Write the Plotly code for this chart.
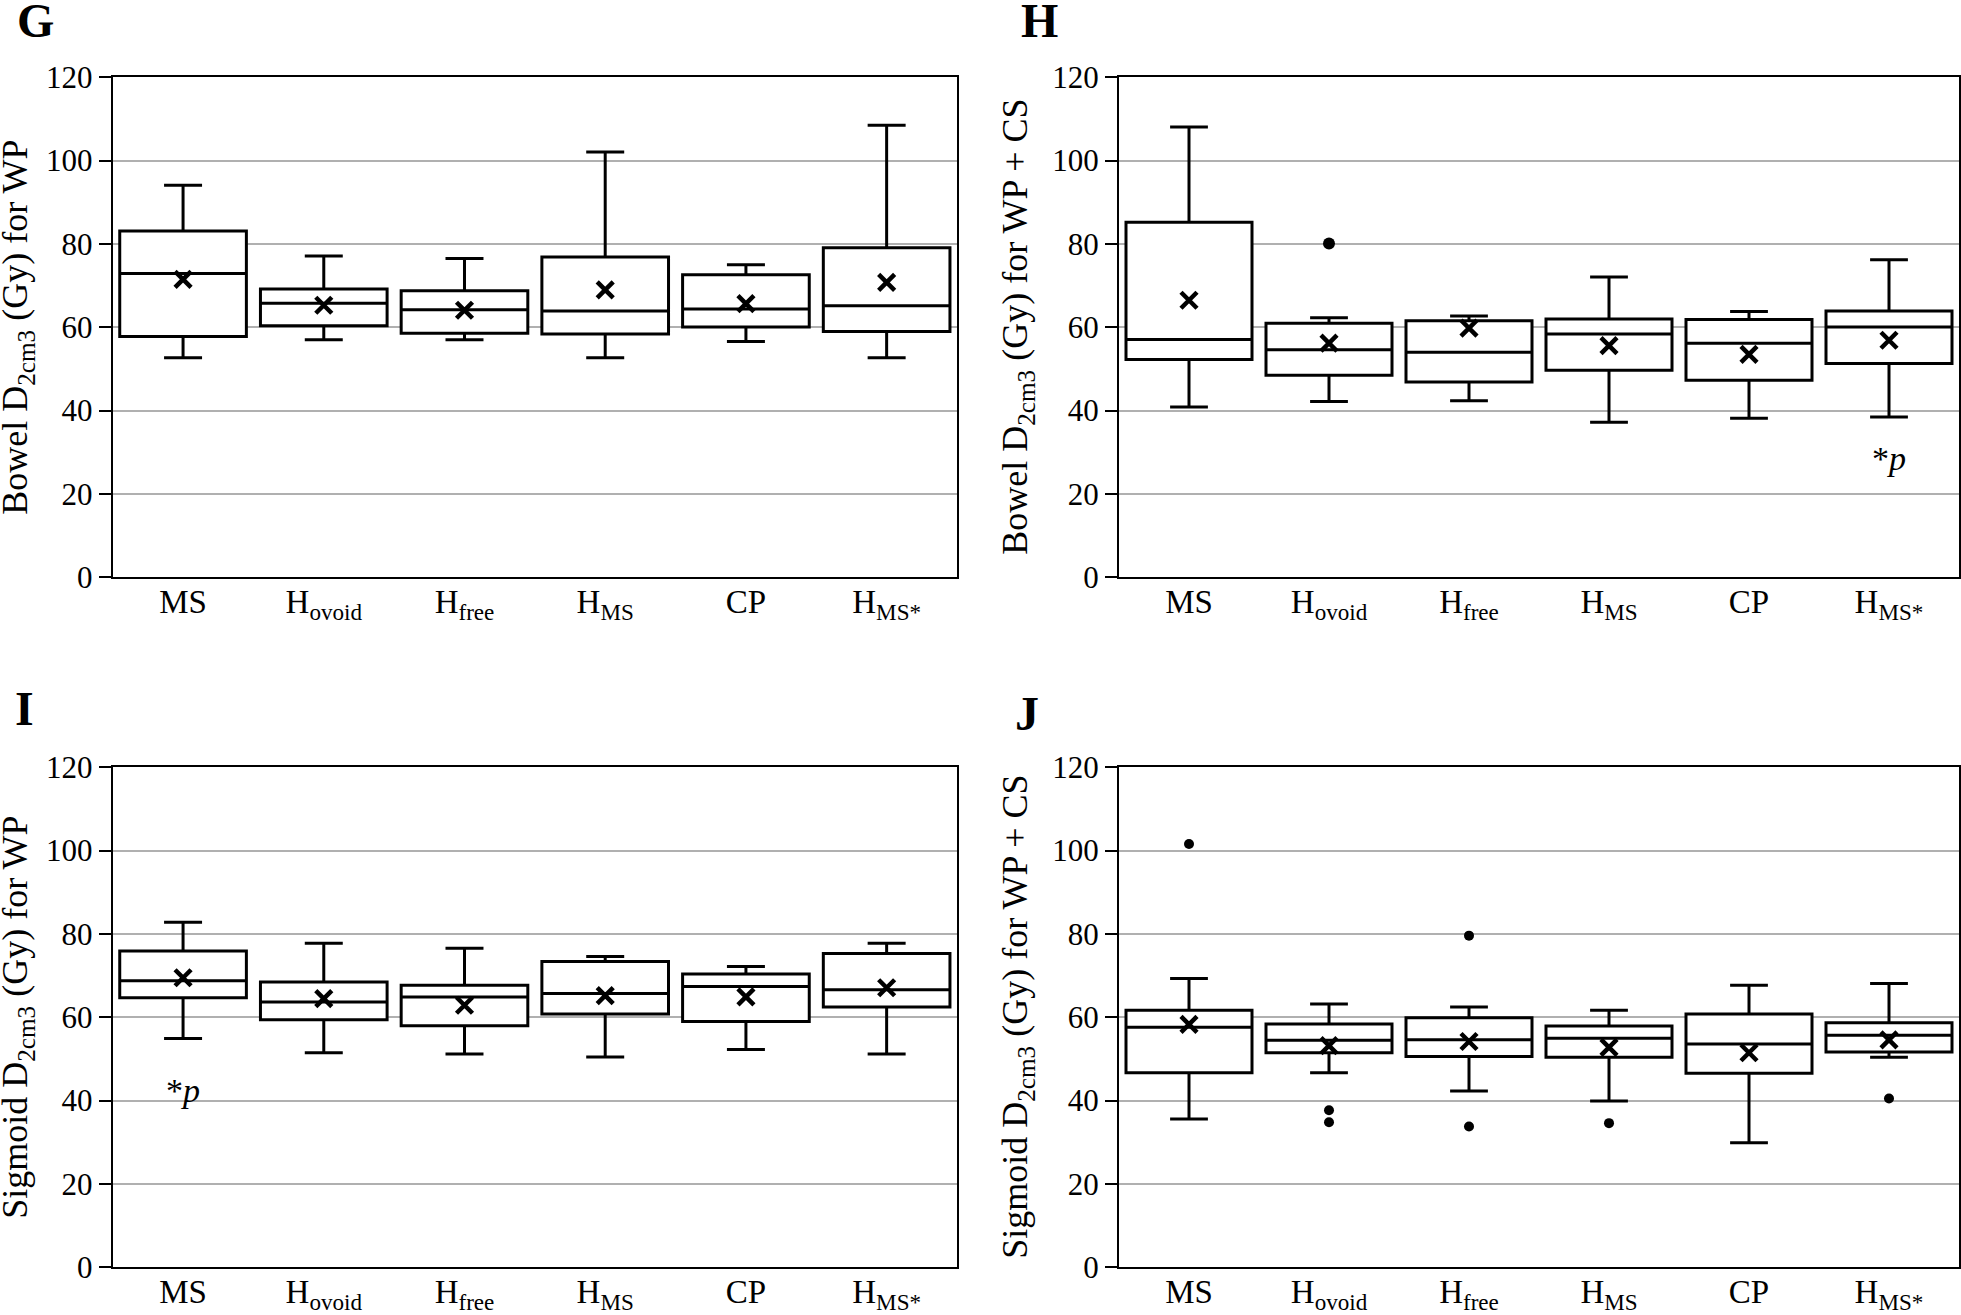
import plotly.graph_objects as go

W, H = 1961, 1315

categories = ["MS", "Hovoid", "Hfree", "HMS", "CP", "HMS*"]
tick_text = ["MS", "H<sub>ovoid</sub>", "H<sub>free</sub>", "H<sub>MS</sub>", "CP", "H<sub>MS*</sub>"]
y_ticks = [0, 20, 40, 60, 80, 100, 120]

# Panel G: Bowel D2cm3 for WP
g_low = [52.7, 57.0, 57.0, 52.7, 56.6, 52.7]
g_q1 = [57.8, 60.4, 58.6, 58.4, 60.1, 59.0]
g_med = [72.9, 65.8, 64.2, 63.9, 64.4, 65.2]
g_q3 = [83.1, 69.2, 68.8, 76.9, 72.6, 79.1]
g_high = [94.1, 77.1, 76.5, 102.1, 75.0, 108.5]
g_mean = [71.5, 65.3, 64.1, 69.0, 65.7, 70.8]
g_out_x = []
g_out_y = []

# Panel H: Bowel D2cm3 for WP + CS
h_low = [40.9, 42.2, 42.4, 37.2, 38.2, 38.5]
h_q1 = [52.3, 48.5, 46.9, 49.7, 47.3, 51.3]
h_med = [57.1, 54.6, 54.0, 58.4, 56.2, 60.1]
h_q3 = [85.2, 61.0, 61.6, 62.0, 61.9, 63.9]
h_high = [108.1, 62.3, 62.7, 72.1, 63.8, 76.2]
h_mean = [66.5, 56.2, 59.8, 55.6, 53.5, 56.9]
h_out_x = ["Hovoid"]
h_out_y = [80.1]

# Panel I: Sigmoid D2cm3 for WP
i_low = [54.9, 51.5, 51.2, 50.5, 52.3, 51.2]
i_q1 = [64.7, 59.4, 58.0, 60.8, 59.0, 62.5]
i_med = [68.8, 63.7, 64.9, 65.7, 67.4, 66.6]
i_q3 = [75.9, 68.5, 67.7, 73.4, 70.4, 75.3]
i_high = [82.8, 77.8, 76.6, 74.6, 72.2, 77.8]
i_mean = [69.5, 64.5, 62.9, 65.2, 64.9, 67.1]
i_out_x = []
i_out_y = []

# Panel J: Sigmoid D2cm3 for WP + CS
j_low = [35.6, 46.7, 42.3, 39.9, 29.9, 50.4]
j_q1 = [46.7, 51.5, 50.6, 50.4, 46.6, 51.7]
j_med = [57.6, 54.5, 54.6, 55.0, 53.6, 55.7]
j_q3 = [61.7, 58.4, 59.9, 57.9, 60.8, 58.7]
j_high = [69.3, 63.2, 62.5, 61.7, 67.7, 68.1]
j_mean = [58.3, 53.2, 54.2, 52.8, 51.5, 54.6]
j_out_x = ["MS", "Hovoid", "Hovoid", "Hfree", "Hfree", "HMS", "HMS*"]
j_out_y = [101.6, 37.7, 34.8, 79.6, 33.8, 34.6, 40.5]

panels = [
    dict(letter="G", title="Bowel D<sub>2cm3</sub> (Gy) for WP",
         low=g_low, q1=g_q1, med=g_med, q3=g_q3, high=g_high, mean=g_mean,
         ox=g_out_x, oy=g_out_y, osize=12,
         px=(112.7, 957), py=(77.3, 577.3), lx=35, ly=21, tx=17.5),
    dict(letter="H", title="Bowel D<sub>2cm3</sub> (Gy) for WP + CS",
         low=h_low, q1=h_q1, med=h_med, q3=h_q3, high=h_high, mean=h_mean,
         ox=h_out_x, oy=h_out_y, osize=12,
         px=(1119, 1959), py=(77.3, 577.3), lx=1039, ly=20, tx=1017.5),
    dict(letter="I", title="Sigmoid D<sub>2cm3</sub> (Gy) for WP",
         low=i_low, q1=i_q1, med=i_med, q3=i_q3, high=i_high, mean=i_mean,
         ox=i_out_x, oy=i_out_y, osize=10,
         px=(112.7, 957), py=(767.3, 1267.3), lx=24.5, ly=708, tx=17.5),
    dict(letter="J", title="Sigmoid D<sub>2cm3</sub> (Gy) for WP + CS",
         low=j_low, q1=j_q1, med=j_med, q3=j_q3, high=j_high, mean=j_mean,
         ox=j_out_x, oy=j_out_y, osize=10,
         px=(1119, 1959), py=(767.3, 1267.3), lx=1027, ly=713, tx=1017.5),
]

ytick_font = dict(family="Liberation Serif", size=31, color="black")
xtick_font = dict(family="Liberation Serif", size=33, color="black")
title_font = dict(family="Liberation Serif", size=36, color="black")

fig = go.Figure()
annotations = []
for k, p in enumerate(panels):
    n = "" if k == 0 else str(k + 1)
    xa, ya = "x" + n, "y" + n
    fig.add_trace(go.Box(
        x=categories, q1=p["q1"], median=p["med"], q3=p["q3"],
        lowerfence=p["low"], upperfence=p["high"],
        width=0.9, whiskerwidth=0.3,
        fillcolor="white", line=dict(color="black", width=3),
        boxpoints=False, showlegend=False, hoverinfo="skip",
        xaxis=xa, yaxis=ya))
    fig.add_trace(go.Scatter(
        x=categories, y=p["mean"], mode="markers",
        marker=dict(symbol="x-thin", size=16, color="black",
                    line=dict(color="black", width=4.5)),
        showlegend=False, hoverinfo="skip", xaxis=xa, yaxis=ya))
    if p["ox"]:
        fig.add_trace(go.Scatter(
            x=p["ox"], y=p["oy"], mode="markers",
            marker=dict(symbol="circle", size=p["osize"], color="black"),
            showlegend=False, hoverinfo="skip", xaxis=xa, yaxis=ya))
    x0, x1 = p["px"]
    y0, y1 = p["py"]
    fig.layout["xaxis" + n] = dict(
        domain=[x0 / W, x1 / W], anchor=ya, type="category",
        categoryorder="array", categoryarray=categories,
        tickvals=categories, ticktext=tick_text, range=[-0.5, 5.5],
        showline=True, linecolor="black", linewidth=2, mirror=True,
        ticks="", showgrid=False, tickfont=xtick_font, zeroline=False,
        ticklabelstandoff=-6, automargin=False)
    fig.layout["yaxis" + n] = dict(
        domain=[1 - y1 / H, 1 - y0 / H], anchor=xa, range=[0, 120],
        tickvals=y_ticks, showline=True, linecolor="black", linewidth=2,
        mirror=True, ticks="outside", ticklen=12, tickcolor="black",
        tickwidth=2, showgrid=True, gridcolor="#b0b0b0", gridwidth=1.8,
        zeroline=False, tickfont=ytick_font, automargin=False)
    annotations.append(dict(
        text="<b>" + p["letter"] + "</b>", xref="paper", yref="paper",
        x=p["lx"] / W, y=1 - p["ly"] / H, xanchor="center", yanchor="middle",
        showarrow=False, font=dict(family="Liberation Serif", size=48, color="black")))
    annotations.append(dict(
        text=p["title"], xref="paper", yref="paper", textangle=-90,
        x=p["tx"] / W, y=1 - (y0 + y1) / 2 / H, xanchor="center", yanchor="middle",
        showarrow=False, font=title_font))

annotations.append(dict(text="*<i>p</i>", xref="x2", yref="y2", x="HMS*", y=28.4,
                        showarrow=False, font=dict(family="Liberation Serif", size=34, color="black")))
annotations.append(dict(text="*<i>p</i>", xref="x3", yref="y3", x="MS", y=42.4,
                        showarrow=False, font=dict(family="Liberation Serif", size=34, color="black")))

fig.update_layout(width=W, height=H, margin=dict(l=0, r=0, t=0, b=0, autoexpand=False),
                  paper_bgcolor="white", plot_bgcolor="white",
                  annotations=annotations, showlegend=False)

fig.write_html("out.html",
               config={"displayModeBar": False},
               post_script="document.body.style.margin='0';"
                           "document.body.style.padding='0';"
                           "document.documentElement.style.overflow='hidden';")
